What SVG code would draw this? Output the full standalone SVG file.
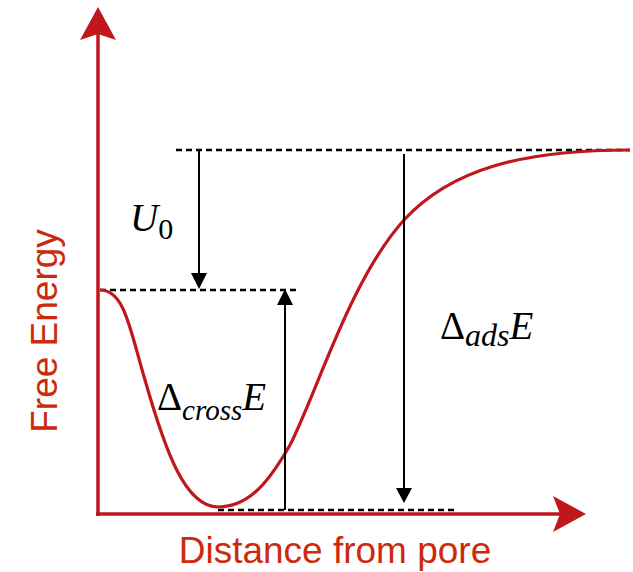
<svg xmlns="http://www.w3.org/2000/svg" width="633" height="572" viewBox="0 0 633 572">
<style>
.axis{stroke:#c0171d;stroke-width:3.5;fill:none}
.ahead{fill:#c0171d}
.curve{stroke:#c0171d;stroke-width:3.2;fill:none}
.dash{stroke:#000;stroke-width:2.5;stroke-dasharray:6 4;fill:none}
.arr{stroke:#000;stroke-width:2;fill:none}
.bhead{fill:#000}
.lbl{font-family:"Liberation Sans",Arial,sans-serif;font-size:37px;fill:#cc2a0c}
.math{font-family:"Liberation Serif","Times New Roman",serif;font-size:39px;fill:#000}
.it{font-style:italic}
</style>
<rect width="633" height="572" fill="#fff"/>
<g id="axes">
<line class="axis" x1="98" y1="516" x2="98" y2="34"/>
<path class="ahead" d="M98,7 L116,40 L98,34 L80,40 Z"/>
<line class="axis" x1="96" y1="514" x2="560" y2="514"/>
<path class="ahead" d="M586,514 L553,532 L560,514 L553,496 Z"/>
</g>
<g id="guides">
<line class="dash" x1="176" y1="150" x2="630" y2="150"/>
<line class="dash" x1="100" y1="290" x2="298" y2="290"/>
<line class="dash" x1="218" y1="510" x2="454" y2="510"/>
</g>
<g id="curve">
<path class="curve" d="M100,290 C125,290 130,330 145,380 C165,450 185,507 218,507 C250,507 270,480 290,445 C318,390 350,280 404,220 C450,170 520,150 630,150"/>
</g>
<g id="connectors">
<line class="arr" x1="199" y1="150" x2="199" y2="276"/>
<path class="bhead" d="M199,289 L191,273 L207,273 Z"/>
<line class="arr" x1="285" y1="510" x2="285" y2="302"/>
<path class="bhead" d="M285,289 L277,305 L293,305 Z"/>
<line class="arr" x1="404" y1="154" x2="404" y2="490"/>
<path class="bhead" d="M404,503 L396,488 L412,488 Z"/>
</g>
<g id="label-U0">
<text class="math" x="130" y="231"><tspan class="it">U</tspan><tspan font-size="30" dy="8">0</tspan></text>
</g>
<g id="label-cross">
<text class="math" x="157" y="410">Δ<tspan class="it" font-size="29" dy="10">cross</tspan><tspan class="it" dy="-10">E</tspan></text>
</g>
<g id="label-ads">
<text class="math" x="440" y="339">Δ<tspan class="it" font-size="32" dy="7">ads</tspan><tspan class="it" dy="-7">E</tspan></text>
</g>
<g id="axis-labels">
<text class="lbl" x="335" y="563" text-anchor="middle">Distance from pore</text>
<text class="lbl" transform="translate(57,331) rotate(-90)" text-anchor="middle">Free Energy</text>
</g>
</svg>
